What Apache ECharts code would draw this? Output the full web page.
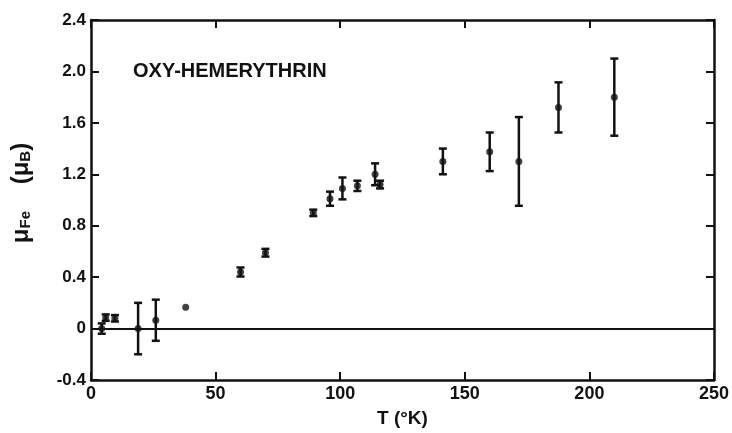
<!DOCTYPE html>
<html>
<head>
<meta charset="utf-8">
<script src="https://cdn.jsdelivr.net/npm/echarts@6/dist/echarts.min.js"></script>
<style>
  html, body { margin: 0; padding: 0; background: #fff; }
  #chart { width: 732px; height: 433px; }
</style>
</head>
<body>
<div id="chart"></div>
<script>
// T (K), moment per Fe (Bohr magnetons) and half error bar
const temps   = [4.3, 5.9, 9.6, 18.9, 26, 38, 60, 70, 89.2, 95.9, 100.9, 106.9, 114, 116, 141.2, 160, 171.7, 187.6, 210];
const moments = [0, 0.085, 0.08, 0, 0.065, 0.165, 0.44, 0.59, 0.90, 1.01, 1.09, 1.11, 1.20, 1.12, 1.30, 1.375, 1.30, 1.72, 1.80];
const errors  = [0.04, 0.025, 0.025, 0.2, 0.16, 0, 0.035, 0.03, 0.025, 0.055, 0.085, 0.04, 0.085, 0.03, 0.1, 0.15, 0.345, 0.195, 0.3];

const xTicks = [0, 50, 100, 150, 200, 250];
const yTicks = [-0.4, 0, 0.4, 0.8, 1.2, 1.6, 2.0, 2.4];

const ink = "#111";
const font = "Liberation Sans, Arial, sans-serif";

const points = temps.map((t, i) => [t, moments[i]]);
const bars = temps.map((t, i) => [t, moments[i] - errors[i], moments[i] + errors[i]]).filter((d, i) => errors[i] > 0);

const chart = echarts.init(document.getElementById("chart"), null, { renderer: "canvas" });

function yLabel(v) {
  if (Math.abs(v) < 1e-9) return "0";
  return v.toFixed(1);
}

const tickStyle = { show: true, inside: true, length: 8, lineStyle: { color: ink, width: 2 } };
const lineStyle = { show: true, onZero: false, lineStyle: { color: ink, width: 2.5 } };

const option = {
  animation: false,
  backgroundColor: "#fff",
  title: {
    text: "OXY-HEMERYTHRIN",
    left: 128,
    top: 56,
    textStyle: { color: ink, fontSize: 20, fontWeight: "bold", fontFamily: font }
  },
  grid: { left: 91, right: 16, top: 20, bottom: 52 },
  xAxis: [
    {
      type: "value",
      min: xTicks[0],
      max: xTicks[xTicks.length - 1],
      interval: 50,
      position: "bottom",
      axisLine: lineStyle,
      axisTick: tickStyle,
      splitLine: { show: false },
      axisLabel: { color: ink, fontSize: 18, fontWeight: "bold", fontFamily: font, margin: 5 },
      name: "T (°K)",
      nameLocation: "middle",
      nameGap: 29,
      nameTextStyle: { color: ink, fontSize: 19, fontWeight: "bold", fontFamily: font }
    },
    {
      type: "value",
      min: xTicks[0],
      max: xTicks[xTicks.length - 1],
      interval: 50,
      position: "top",
      axisLine: lineStyle,
      axisTick: tickStyle,
      axisLabel: { show: false },
      splitLine: { show: false }
    }
  ],
  yAxis: [
    {
      type: "value",
      min: yTicks[0],
      max: yTicks[yTicks.length - 1],
      interval: 0.4,
      position: "left",
      axisLine: lineStyle,
      axisTick: tickStyle,
      splitLine: { show: false },
      axisLabel: { color: ink, fontSize: 17, fontWeight: "bold", fontFamily: font, margin: 5, formatter: yLabel },
      name: "{m|μ}{s|Fe}{m|    (μ}{s|B}{m|)}",
      nameLocation: "middle",
      nameGap: 58,
      nameRotate: 90,
      nameTextStyle: {
        color: ink,
        fontFamily: font,
        padding: [0, 0, 0, 14],
        rich: {
          m: { fontSize: 24, fontWeight: "bold", color: ink, fontFamily: font },
          s: { fontSize: 15, fontWeight: "bold", color: ink, fontFamily: font, verticalAlign: "bottom", padding: [8, 0, 0, 0] }
        }
      }
    },
    {
      type: "value",
      min: yTicks[0],
      max: yTicks[yTicks.length - 1],
      interval: 0.4,
      position: "right",
      axisLine: lineStyle,
      axisTick: tickStyle,
      axisLabel: { show: false },
      splitLine: { show: false }
    }
  ],
  series: [
    {
      type: "custom",
      xAxisIndex: 0,
      yAxisIndex: 0,
      data: bars,
      renderItem: function (params, api) {
        const lo = api.coord([api.value(0), api.value(1)]);
        const hi = api.coord([api.value(0), api.value(2)]);
        const w = 4;
        const st = { stroke: ink, lineWidth: 2.5 };
        return {
          type: "group",
          children: [
            { type: "line", shape: { x1: lo[0], y1: lo[1], x2: hi[0], y2: hi[1] }, style: st },
            { type: "line", shape: { x1: lo[0] - w, y1: lo[1], x2: lo[0] + w, y2: lo[1] }, style: st },
            { type: "line", shape: { x1: hi[0] - w, y1: hi[1], x2: hi[0] + w, y2: hi[1] }, style: st }
          ]
        };
      },
      z: 3
    },
    {
      type: "scatter",
      xAxisIndex: 0,
      yAxisIndex: 0,
      data: points,
      symbol: "circle",
      symbolSize: 7,
      itemStyle: { color: ink },
      markLine: {
        silent: true,
        symbol: "none",
        label: { show: false },
        lineStyle: { color: ink, width: 2, type: "solid" },
        data: [{ yAxis: 0 }]
      },
      z: 4
    }
  ]
};

chart.setOption(option);
</script>
</body>
</html>
